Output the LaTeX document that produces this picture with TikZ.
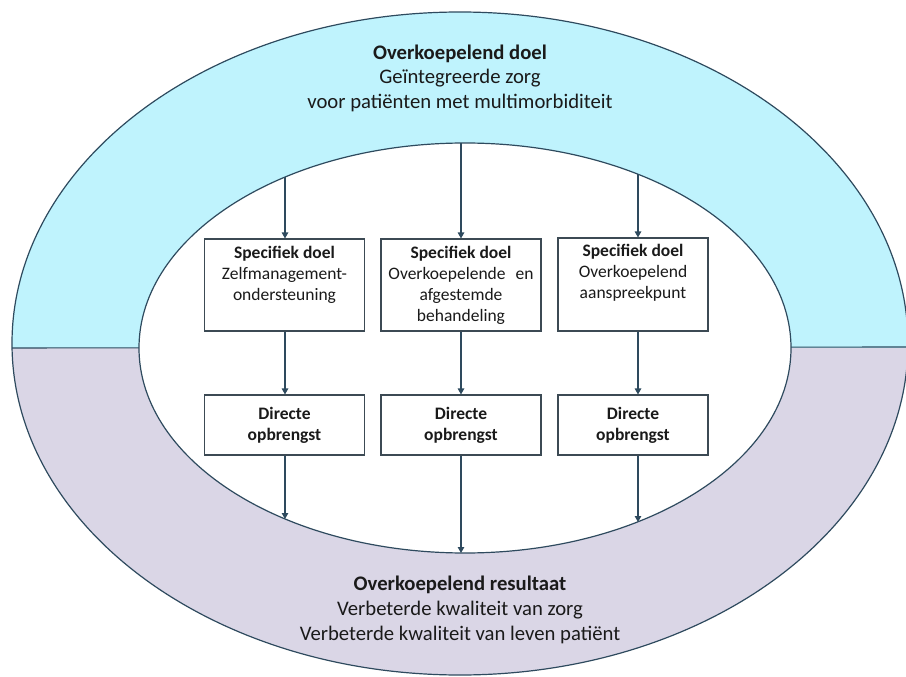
\documentclass[tikz,border=0pt]{standalone}
\usepackage{fontspec}
\setmainfont{Carlito}
\usetikzlibrary{arrows.meta}
\definecolor{topfill}{HTML}{BFF3FD}
\definecolor{botfill}{HTML}{DAD6E6}
\definecolor{edgecol}{HTML}{2E4A5E}
\definecolor{boxedge}{HTML}{3C4A54}
\definecolor{txt}{HTML}{1A1A1A}
\begin{document}
\begin{tikzpicture}[x=1pt,y=-1pt,
  goalbox/.style={draw=boxedge, line width=1.1pt, fill=white, inner sep=0pt, text=txt,
    font=\fontsize{17.5}{21}\selectfont},
  conn/.style={draw=edgecol, line width=1.2pt, -{Triangle[length=6pt,width=6.5pt]}},
  bigtext/.style={align=center, text=txt, font=\fontsize{20.7}{24.5}\selectfont},
  ]
\useasboundingbox (0,0) rectangle (906,677);
\clip (0,0) rectangle (906,677);
% ring fills
\begin{scope}
  \clip (460,343.5) ellipse [x radius=448pt, y radius=331.5pt];
  \fill[topfill] (0,0) rectangle (906,348);
  \fill[botfill] (0,348) rectangle (906,677);
  \draw[edgecol, line width=1.1pt] (0,348) -- (906,347);
\end{scope}
\draw[edgecol, line width=1.2pt] (460,343.5) ellipse [x radius=448pt, y radius=331.5pt];
\draw[edgecol, line width=1.2pt, fill=white] (465,348) ellipse [x radius=326pt, y radius=205pt];

% texts
\node[bigtext] (goal) at (460,78) {\textbf{Overkoepelend doel}\\Geïntegreerde zorg\\voor patiënten met multimorbiditeit};
\node[bigtext, font=\fontsize{20.7}{25}\selectfont] (result) at (460,610) {\textbf{Overkoepelend resultaat}\\Verbeterde kwaliteit van zorg\\Verbeterde kwaliteit van leven patiënt};

% specific goal boxes
\node[goalbox] (s1) at (284.5,285) {\parbox[c][92pt][t]{160pt}{\centering\rule{0pt}{19.5pt}\textbf{Specifiek doel}\\Zelfmanagement-\\ondersteuning}};
\node[goalbox] (s2) at (461,285) {\parbox[c][92pt][t]{160pt}{\centering\rule{0pt}{19.5pt}\textbf{Specifiek doel}\\Overkoepelende\hspace{0.35em} en\\afgestemde\\behandeling}};
\node[goalbox] (s3) at (633,284.5) {\parbox[c][93pt][t]{150pt}{\centering\rule{0pt}{18pt}\textbf{Specifiek doel}\\Overkoepelend\\aanspreekpunt}};

% direct yield boxes
\node[goalbox] (d1) at (284.5,425) {\parbox[c][60pt][c]{160pt}{\centering\textbf{Directe}\\\textbf{opbrengst}}};
\node[goalbox] (d2) at (461,425) {\parbox[c][60pt][c]{160pt}{\centering\textbf{Directe}\\\textbf{opbrengst}}};
\node[goalbox] (d3) at (633,425) {\parbox[c][60pt][c]{150pt}{\centering\textbf{Directe}\\\textbf{opbrengst}}};

% connector end points on the inner ellipse
\coordinate (t1) at (285,177);
\coordinate (t2) at (461,143);
\coordinate (t3) at (638,174);
\coordinate (b1) at (285,519);
\coordinate (b2) at (461,553);
\coordinate (b3) at (638,522);

\draw[conn] (t1) -- (t1 |- s1.north);
\draw[conn] (t2) -- (t2 |- s2.north);
\draw[conn] (t3) -- (t3 |- s3.north);
\draw[conn] (s1.south -| t1) -- (d1.north -| t1);
\draw[conn] (s2.south -| t2) -- (d2.north -| t2);
\draw[conn] (s3.south -| t3) -- (d3.north -| t3);
\draw[conn] (d1.south -| b1) -- (b1);
\draw[conn] (d2.south -| b2) -- (b2);
\draw[conn] (d3.south -| b3) -- (b3);
\end{tikzpicture}
\end{document}
